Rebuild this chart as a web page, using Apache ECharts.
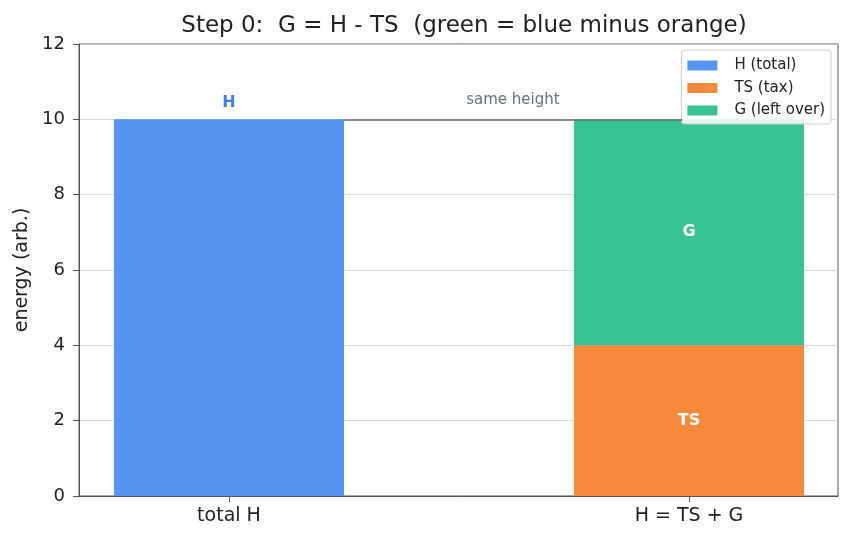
<!DOCTYPE html>
<html>
<head>
<meta charset="utf-8">
<script src="https://cdn.jsdelivr.net/npm/echarts@6/dist/echarts.min.js"></script>
<style>
  html, body { margin: 0; padding: 0; background: #fff; }
  #chart { width: 852px; height: 543px; }
</style>
</head>
<body>
<div id="chart"></div>
<script>
// categories and values
var categories = ['total H', 'H = TS + G'];
var hTotal = [10, '-'];
var tsValues = ['-', 4];
var gValues = ['-', 6];
var yTicks = [0, 2, 4, 6, 8, 10, 12];
// arrow "same height": from the right edge of the first bar to the second bar
var arrowFrom = [0.25, 10];
var arrowTo = [0.987, 10];

var blue = '#5794f2', orange = '#f78a3a', green = '#36c494';
var font = 'DejaVu Sans';

var myChart = echarts.init(document.getElementById('chart'));
var option = {
    animation: false,
    title: {
        text: 'Step 0:  G = H - TS  (green = blue minus orange)',
        left: 459, top: 10, textAlign: 'center',
        textStyle: { fontFamily: font, fontSize: 23, fontWeight: 'normal', color: '#222' }
    },
    legend: {
        orient: 'vertical', right: 21, top: 50,
        itemWidth: 30, itemHeight: 10, itemGap: 7.5,
        icon: 'rect',
        backgroundColor: 'rgba(255,255,255,0.85)', borderColor: '#cccccc', borderWidth: 1, borderRadius: 3,
        padding: [8, 6, 6, 6],
        textStyle: { fontFamily: font, fontSize: 15, color: '#222', padding: [0, 0, 0, 12] },
        data: ['H (total)', 'TS (tax)', 'G (left over)']
    },
    grid: [
        // visible frame + y axis
        { left: 79, right: 14, top: 44, bottom: 47, outerBoundsMode: 'none',
          show: true, borderColor: '#555', borderWidth: 1 },
        // bar grid: category bands placed so centres fall where the reference puts them
        { left: -1, width: 920, top: 44, bottom: 47, outerBoundsMode: 'none' }
    ],
    xAxis: [
        {
            gridIndex: 0, type: 'value', min: -0.326, max: 1.326,
            axisLine: { show: true, onZero: false, lineStyle: { color: '#555' } },
            axisTick: { show: false }, axisLabel: { show: false }, splitLine: { show: false }
        },
        {
            gridIndex: 1, type: 'category', data: categories,
            axisLine: { show: false },
            axisTick: { show: true, alignWithLabel: true, length: 6, lineStyle: { color: '#555' } },
            axisLabel: { margin: 11, fontFamily: font, fontSize: 19, color: '#222' }
        }
    ],
    yAxis: [
        {
            gridIndex: 0, type: 'value', min: yTicks[0], max: yTicks[yTicks.length - 1], interval: 2,
            name: 'energy (arb.)', nameLocation: 'middle', nameGap: 46, nameRotate: 90,
            nameTextStyle: { fontFamily: font, fontSize: 19, color: '#222' },
            axisLine: { show: true, onZero: false, lineStyle: { color: '#555' } },
            axisTick: { show: true, length: 6, lineStyle: { color: '#555' } },
            axisLabel: { fontFamily: font, fontSize: 18, color: '#222', margin: 14 },
            splitLine: { show: true, lineStyle: { color: '#d2d2d2', width: 0.8 } }
        },
        {
            gridIndex: 1, type: 'value', min: yTicks[0], max: yTicks[yTicks.length - 1], show: false
        }
    ],
    series: [
        {
            name: 'H (total)', type: 'bar', xAxisIndex: 1, yAxisIndex: 1, barWidth: '50%', stack: 'a',
            data: hTotal,
            itemStyle: { color: blue },
            label: {
                show: true, position: 'top', distance: 8,
                formatter: 'H', color: '#3f80e6', fontWeight: 'bold',
                fontFamily: font, fontSize: 16
            }
        },
        {
            name: 'TS (tax)', type: 'bar', xAxisIndex: 1, yAxisIndex: 1, barWidth: '50%', stack: 'r',
            barGap: '-100%',
            data: tsValues,
            itemStyle: { color: orange },
            label: {
                show: true, position: 'inside', formatter: 'TS', color: '#fff',
                fontWeight: 'bold', fontFamily: font, fontSize: 16
            }
        },
        {
            name: 'G (left over)', type: 'bar', xAxisIndex: 1, yAxisIndex: 1, barWidth: '50%', stack: 'r',
            barGap: '-100%',
            data: gValues,
            itemStyle: { color: green },
            label: {
                show: true, position: 'inside', formatter: 'G', color: '#fff',
                fontWeight: 'bold', fontFamily: font, fontSize: 16
            }
        },
        {
            // carrier for the annotation arrow on the frame grid
            type: 'line', xAxisIndex: 0, yAxisIndex: 0, data: [], z: 5,
            markLine: {
                silent: true, symbol: ['none', 'arrow'], symbolSize: [0, 9],
                lineStyle: { color: '#6b6b7b', width: 1.5, type: 'solid' },
                label: {
                    show: true, position: 'insideMiddleTop', distance: 12,
                    formatter: 'same height', color: '#6b7280',
                    fontFamily: font, fontSize: 15
                },
                data: [[{ coord: arrowFrom }, { coord: arrowTo }]]
            }
        }
    ]
};
myChart.setOption(option);
</script>
</body>
</html>
